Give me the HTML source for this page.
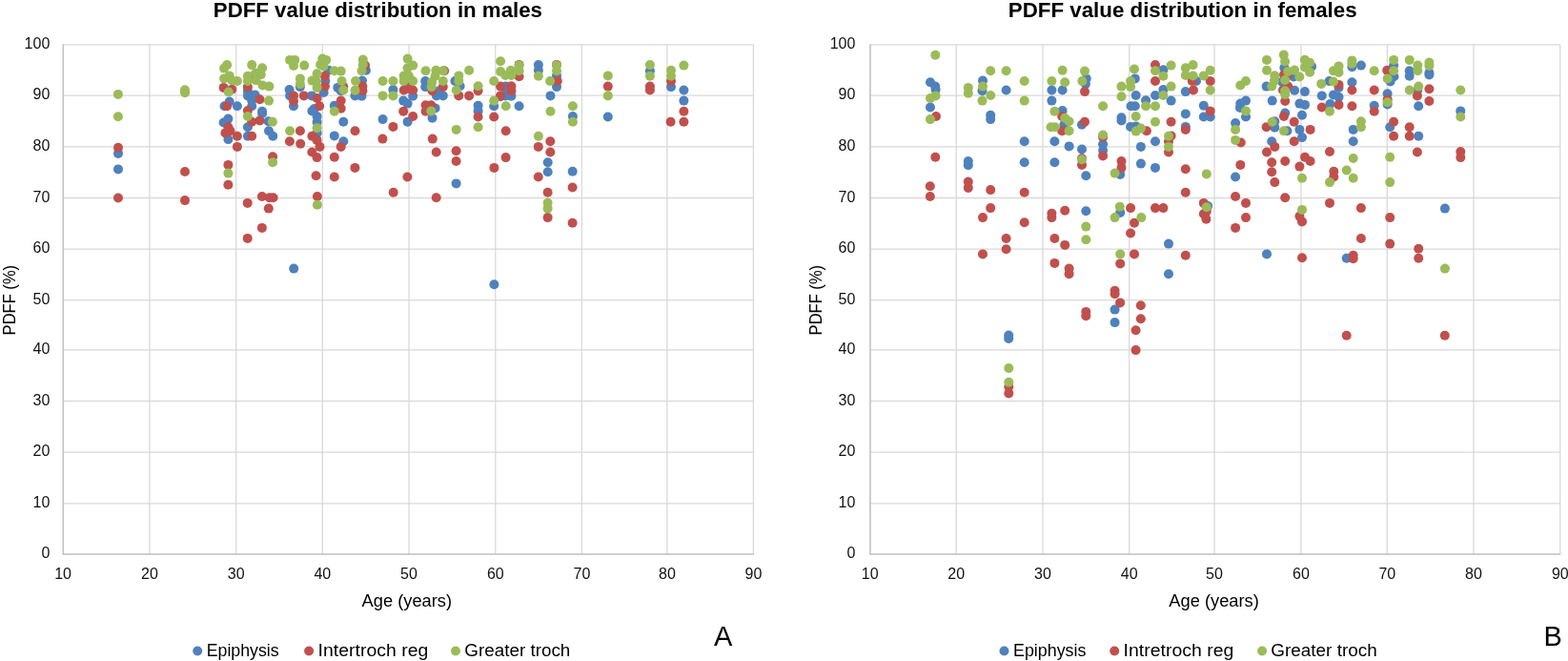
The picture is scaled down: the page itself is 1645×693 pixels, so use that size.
<!DOCTYPE html>
<html><head><meta charset="utf-8"><style>
html,body{margin:0;padding:0;background:#fff;}
body{width:1645px;height:693px;overflow:hidden;}
svg{display:block;}
text{font-family:"Liberation Sans",Arial,sans-serif;fill:#000;}
.g{stroke:#d9d9d9;stroke-width:1.3;}
.ax{stroke:#bfbfbf;stroke-width:1.6;}
.ay{stroke:#c4c4c4;stroke-width:1.4;}
.yl,.xl{font-size:16px;fill:#111;}
.at{font-size:17.5px;}
.lg{font-size:17.5px;}
.tt{font-size:22px;font-weight:bold;}
.lt{font-size:29px;}
</style></head><body>
<svg width="1645" height="693" viewBox="0 0 1645 693">
<line x1="66.1" y1="527.80" x2="790.4" y2="527.80" class="g"/>
<line x1="66.1" y1="474.10" x2="790.4" y2="474.10" class="g"/>
<line x1="66.1" y1="420.50" x2="790.4" y2="420.50" class="g"/>
<line x1="66.1" y1="366.90" x2="790.4" y2="366.90" class="g"/>
<line x1="66.1" y1="314.70" x2="790.4" y2="314.70" class="g"/>
<line x1="66.1" y1="261.10" x2="790.4" y2="261.10" class="g"/>
<line x1="66.1" y1="207.50" x2="790.4" y2="207.50" class="g"/>
<line x1="66.1" y1="153.90" x2="790.4" y2="153.90" class="g"/>
<line x1="66.1" y1="100.20" x2="790.4" y2="100.20" class="g"/>
<line x1="66.1" y1="46.80" x2="790.4" y2="46.80" class="g"/>
<line x1="66.10" y1="46.8" x2="66.10" y2="581.0" class="g"/>
<line x1="156.90" y1="46.8" x2="156.90" y2="581.0" class="g"/>
<line x1="247.70" y1="46.8" x2="247.70" y2="581.0" class="g"/>
<line x1="338.30" y1="46.8" x2="338.30" y2="581.0" class="g"/>
<line x1="429.00" y1="46.8" x2="429.00" y2="581.0" class="g"/>
<line x1="519.80" y1="46.8" x2="519.80" y2="581.0" class="g"/>
<line x1="610.40" y1="46.8" x2="610.40" y2="581.0" class="g"/>
<line x1="699.90" y1="46.8" x2="699.90" y2="581.0" class="g"/>
<line x1="790.40" y1="46.8" x2="790.40" y2="581.0" class="g"/>
<line x1="66.4" y1="46.2" x2="66.4" y2="581.0" class="ay"/>
<line x1="65.6" y1="581.0" x2="790.9" y2="581.0" class="ax"/>
<g fill="#4f81bd"><circle cx="275.1" cy="118.9" r="5.0"/><circle cx="329.9" cy="113.9" r="5.0"/><circle cx="308.2" cy="281.6" r="5.0"/><circle cx="124.0" cy="177.4" r="5.0"/><circle cx="124.0" cy="160.9" r="5.0"/><circle cx="564.9" cy="68.1" r="5.0"/><circle cx="332.6" cy="122.0" r="5.0"/><circle cx="600.9" cy="122.0" r="5.0"/><circle cx="275.1" cy="116.8" r="5.0"/><circle cx="327.4" cy="116.4" r="5.0"/><circle cx="344.8" cy="73.8" r="5.0"/><circle cx="564.9" cy="73.8" r="5.0"/><circle cx="453.5" cy="123.8" r="5.0"/><circle cx="681.9" cy="74.2" r="5.0"/><circle cx="239.4" cy="124.6" r="5.0"/><circle cx="574.7" cy="170.3" r="5.0"/><circle cx="401.6" cy="125.1" r="5.0"/><circle cx="456.6" cy="113.4" r="5.0"/><circle cx="281.6" cy="127.2" r="5.0"/><circle cx="427.6" cy="127.7" r="5.0"/><circle cx="332.6" cy="128.1" r="5.0"/><circle cx="234.6" cy="128.5" r="5.0"/><circle cx="264.2" cy="111.2" r="5.0"/><circle cx="308.0" cy="111.2" r="5.0"/><circle cx="235.5" cy="111.2" r="5.0"/><circle cx="248.9" cy="111.2" r="5.0"/><circle cx="544.6" cy="111.2" r="5.0"/><circle cx="350.8" cy="110.8" r="5.0"/><circle cx="584.0" cy="79.4" r="5.0"/><circle cx="600.7" cy="179.8" r="5.0"/><circle cx="574.7" cy="180.3" r="5.0"/><circle cx="360.3" cy="127.7" r="5.0"/><circle cx="427.6" cy="108.6" r="5.0"/><circle cx="518.2" cy="111.2" r="5.0"/><circle cx="259.9" cy="133.3" r="5.0"/><circle cx="240.7" cy="106.5" r="5.0"/><circle cx="264.2" cy="105.6" r="5.0"/><circle cx="423.2" cy="105.6" r="5.0"/><circle cx="717.4" cy="105.6" r="5.0"/><circle cx="341.3" cy="85.0" r="5.0"/><circle cx="446.2" cy="85.0" r="5.0"/><circle cx="477.4" cy="85.0" r="5.0"/><circle cx="383.9" cy="73.8" r="5.0"/><circle cx="282.0" cy="137.2" r="5.0"/><circle cx="518.4" cy="298.2" r="5.0"/><circle cx="525.1" cy="101.3" r="5.0"/><circle cx="433.2" cy="100.8" r="5.0"/><circle cx="536.4" cy="100.8" r="5.0"/><circle cx="332.6" cy="139.4" r="5.0"/><circle cx="259.9" cy="100.4" r="5.0"/><circle cx="304.1" cy="100.4" r="5.0"/><circle cx="327.0" cy="100.4" r="5.0"/><circle cx="457.9" cy="100.4" r="5.0"/><circle cx="464.8" cy="100.4" r="5.0"/><circle cx="530.3" cy="100.4" r="5.0"/><circle cx="577.5" cy="100.4" r="5.0"/><circle cx="380.0" cy="84.6" r="5.0"/><circle cx="482.6" cy="90.2" r="5.0"/><circle cx="267.7" cy="99.5" r="5.0"/><circle cx="379.5" cy="100.8" r="5.0"/><circle cx="530.7" cy="90.6" r="5.0"/><circle cx="314.9" cy="91.1" r="5.0"/><circle cx="446.2" cy="91.1" r="5.0"/><circle cx="584.0" cy="91.1" r="5.0"/><circle cx="704.0" cy="91.1" r="5.0"/><circle cx="501.6" cy="110.8" r="5.0"/><circle cx="501.6" cy="116.4" r="5.0"/><circle cx="360.3" cy="148.2" r="5.0"/><circle cx="354.3" cy="91.9" r="5.0"/><circle cx="637.8" cy="122.5" r="5.0"/><circle cx="350.8" cy="142.4" r="5.0"/><circle cx="478.6" cy="192.4" r="5.0"/><circle cx="372.5" cy="100.4" r="5.0"/><circle cx="259.9" cy="142.8" r="5.0"/><circle cx="286.3" cy="142.8" r="5.0"/><circle cx="339.6" cy="96.9" r="5.0"/><circle cx="239.4" cy="146.1" r="5.0"/><circle cx="303.6" cy="94.1" r="5.0"/><circle cx="412.4" cy="94.1" r="5.0"/><circle cx="717.4" cy="94.5" r="5.0"/><circle cx="357.7" cy="95.2" r="5.0"/><circle cx="259.9" cy="95.4" r="5.0"/><circle cx="460.0" cy="95.4" r="5.0"/><circle cx="530.7" cy="96.3" r="5.0"/></g>
<g fill="#c0504d"><circle cx="428.2" cy="92.9" r="5.0"/><circle cx="194.0" cy="180.0" r="5.0"/><circle cx="281.8" cy="218.6" r="5.0"/><circle cx="433.2" cy="122.0" r="5.0"/><circle cx="544.6" cy="67.9" r="5.0"/><circle cx="584.0" cy="67.9" r="5.0"/><circle cx="239.4" cy="172.9" r="5.0"/><circle cx="423.2" cy="116.8" r="5.0"/><circle cx="446.6" cy="116.8" r="5.0"/><circle cx="717.4" cy="116.8" r="5.0"/><circle cx="466.1" cy="74.2" r="5.0"/><circle cx="530.6" cy="165.1" r="5.0"/><circle cx="124.0" cy="154.7" r="5.0"/><circle cx="286.1" cy="164.2" r="5.0"/><circle cx="372.4" cy="175.9" r="5.0"/><circle cx="518.4" cy="175.9" r="5.0"/><circle cx="272.5" cy="126.4" r="5.0"/><circle cx="259.7" cy="212.9" r="5.0"/><circle cx="264.2" cy="127.7" r="5.0"/><circle cx="717.4" cy="127.7" r="5.0"/><circle cx="703.6" cy="127.7" r="5.0"/><circle cx="357.7" cy="113.8" r="5.0"/><circle cx="574.6" cy="228.1" r="5.0"/><circle cx="335.2" cy="111.2" r="5.0"/><circle cx="238.1" cy="111.2" r="5.0"/><circle cx="350.8" cy="164.7" r="5.0"/><circle cx="446.6" cy="110.3" r="5.0"/><circle cx="452.3" cy="110.3" r="5.0"/><circle cx="266.0" cy="79.8" r="5.0"/><circle cx="340.9" cy="79.8" r="5.0"/><circle cx="259.9" cy="116.0" r="5.0"/><circle cx="259.7" cy="249.9" r="5.0"/><circle cx="544.6" cy="80.3" r="5.0"/><circle cx="577.3" cy="159.5" r="5.0"/><circle cx="478.6" cy="169.0" r="5.0"/><circle cx="518.2" cy="122.5" r="5.0"/><circle cx="478.6" cy="158.2" r="5.0"/><circle cx="282.7" cy="207.3" r="5.0"/><circle cx="286.6" cy="207.3" r="5.0"/><circle cx="412.4" cy="132.9" r="5.0"/><circle cx="239.4" cy="133.3" r="5.0"/><circle cx="600.6" cy="233.7" r="5.0"/><circle cx="308.0" cy="106.0" r="5.0"/><circle cx="274.9" cy="206.0" r="5.0"/><circle cx="357.7" cy="105.6" r="5.0"/><circle cx="584.8" cy="85.0" r="5.0"/><circle cx="704.0" cy="85.0" r="5.0"/><circle cx="350.8" cy="185.5" r="5.0"/><circle cx="427.4" cy="185.5" r="5.0"/><circle cx="564.8" cy="185.5" r="5.0"/><circle cx="272.5" cy="104.3" r="5.0"/><circle cx="248.9" cy="153.9" r="5.0"/><circle cx="357.7" cy="153.9" r="5.0"/><circle cx="564.8" cy="153.9" r="5.0"/><circle cx="383.0" cy="68.6" r="5.0"/><circle cx="332.6" cy="103.0" r="5.0"/><circle cx="314.9" cy="137.2" r="5.0"/><circle cx="241.6" cy="137.2" r="5.0"/><circle cx="530.7" cy="137.2" r="5.0"/><circle cx="327.3" cy="159.5" r="5.0"/><circle cx="124.0" cy="207.5" r="5.0"/><circle cx="457.7" cy="159.5" r="5.0"/><circle cx="457.7" cy="207.3" r="5.0"/><circle cx="412.7" cy="201.7" r="5.0"/><circle cx="574.6" cy="201.7" r="5.0"/><circle cx="274.9" cy="238.9" r="5.0"/><circle cx="315.2" cy="150.8" r="5.0"/><circle cx="236.4" cy="139.4" r="5.0"/><circle cx="308.0" cy="100.4" r="5.0"/><circle cx="318.8" cy="100.4" r="5.0"/><circle cx="481.3" cy="100.4" r="5.0"/><circle cx="492.1" cy="100.4" r="5.0"/><circle cx="525.1" cy="100.4" r="5.0"/><circle cx="194.0" cy="210.1" r="5.0"/><circle cx="536.4" cy="90.2" r="5.0"/><circle cx="340.9" cy="90.6" r="5.0"/><circle cx="380.4" cy="90.6" r="5.0"/><circle cx="525.1" cy="90.6" r="5.0"/><circle cx="681.9" cy="90.6" r="5.0"/><circle cx="259.9" cy="91.1" r="5.0"/><circle cx="360.3" cy="91.1" r="5.0"/><circle cx="428.4" cy="91.1" r="5.0"/><circle cx="464.8" cy="91.1" r="5.0"/><circle cx="501.6" cy="122.5" r="5.0"/><circle cx="331.6" cy="184.2" r="5.0"/><circle cx="303.9" cy="148.2" r="5.0"/><circle cx="577.3" cy="148.2" r="5.0"/><circle cx="234.6" cy="91.9" r="5.0"/><circle cx="637.8" cy="90.6" r="5.0"/><circle cx="372.5" cy="137.2" r="5.0"/><circle cx="332.5" cy="165.1" r="5.0"/><circle cx="264.2" cy="142.8" r="5.0"/><circle cx="327.4" cy="142.8" r="5.0"/><circle cx="248.9" cy="142.8" r="5.0"/><circle cx="332.9" cy="206.0" r="5.0"/><circle cx="332.5" cy="146.9" r="5.0"/><circle cx="600.6" cy="196.5" r="5.0"/><circle cx="243.3" cy="93.7" r="5.0"/><circle cx="239.4" cy="193.7" r="5.0"/><circle cx="401.4" cy="145.6" r="5.0"/><circle cx="453.8" cy="145.6" r="5.0"/><circle cx="423.7" cy="94.5" r="5.0"/><circle cx="433.2" cy="94.5" r="5.0"/><circle cx="681.9" cy="94.5" r="5.0"/><circle cx="380.4" cy="95.2" r="5.0"/><circle cx="453.5" cy="95.2" r="5.0"/><circle cx="501.6" cy="95.2" r="5.0"/><circle cx="536.4" cy="95.2" r="5.0"/><circle cx="335.5" cy="153.9" r="5.0"/></g>
<g fill="#9bbb59"><circle cx="286.1" cy="170.3" r="5.0"/><circle cx="339.6" cy="69.4" r="5.0"/><circle cx="308.0" cy="69.0" r="5.0"/><circle cx="275.1" cy="71.2" r="5.0"/><circle cx="427.6" cy="71.2" r="5.0"/><circle cx="319.2" cy="68.6" r="5.0"/><circle cx="433.2" cy="68.6" r="5.0"/><circle cx="544.6" cy="68.6" r="5.0"/><circle cx="584.0" cy="68.6" r="5.0"/><circle cx="717.4" cy="68.6" r="5.0"/><circle cx="574.6" cy="218.6" r="5.0"/><circle cx="235.1" cy="71.6" r="5.0"/><circle cx="681.9" cy="68.1" r="5.0"/><circle cx="238.1" cy="68.1" r="5.0"/><circle cx="336.1" cy="67.7" r="5.0"/><circle cx="350.8" cy="116.8" r="5.0"/><circle cx="577.5" cy="116.8" r="5.0"/><circle cx="452.3" cy="116.4" r="5.0"/><circle cx="457.4" cy="73.8" r="5.0"/><circle cx="535.9" cy="73.8" r="5.0"/><circle cx="704.0" cy="73.8" r="5.0"/><circle cx="350.8" cy="74.2" r="5.0"/><circle cx="446.6" cy="74.2" r="5.0"/><circle cx="464.8" cy="74.2" r="5.0"/><circle cx="544.6" cy="74.2" r="5.0"/><circle cx="584.0" cy="74.2" r="5.0"/><circle cx="525.1" cy="75.1" r="5.0"/><circle cx="264.2" cy="68.1" r="5.0"/><circle cx="525.1" cy="64.2" r="5.0"/><circle cx="268.6" cy="76.4" r="5.0"/><circle cx="304.1" cy="62.9" r="5.0"/><circle cx="309.3" cy="62.9" r="5.0"/><circle cx="342.2" cy="62.9" r="5.0"/><circle cx="332.6" cy="77.2" r="5.0"/><circle cx="574.6" cy="212.7" r="5.0"/><circle cx="285.9" cy="127.7" r="5.0"/><circle cx="600.9" cy="127.7" r="5.0"/><circle cx="357.7" cy="74.6" r="5.0"/><circle cx="273.8" cy="78.1" r="5.0"/><circle cx="338.3" cy="61.6" r="5.0"/><circle cx="427.6" cy="61.6" r="5.0"/><circle cx="530.7" cy="111.2" r="5.0"/><circle cx="600.9" cy="111.2" r="5.0"/><circle cx="530.3" cy="79.0" r="5.0"/><circle cx="536.4" cy="79.0" r="5.0"/><circle cx="423.7" cy="79.4" r="5.0"/><circle cx="481.3" cy="79.4" r="5.0"/><circle cx="240.7" cy="79.4" r="5.0"/><circle cx="428.9" cy="79.8" r="5.0"/><circle cx="456.6" cy="79.8" r="5.0"/><circle cx="564.9" cy="79.8" r="5.0"/><circle cx="681.9" cy="79.8" r="5.0"/><circle cx="704.0" cy="79.8" r="5.0"/><circle cx="259.9" cy="79.8" r="5.0"/><circle cx="259.9" cy="122.0" r="5.0"/><circle cx="239.4" cy="181.6" r="5.0"/><circle cx="492.1" cy="73.8" r="5.0"/><circle cx="314.9" cy="82.4" r="5.0"/><circle cx="235.1" cy="82.4" r="5.0"/><circle cx="194.0" cy="97.3" r="5.0"/><circle cx="268.6" cy="84.2" r="5.0"/><circle cx="332.6" cy="134.2" r="5.0"/><circle cx="243.3" cy="84.2" r="5.0"/><circle cx="282.0" cy="105.6" r="5.0"/><circle cx="518.2" cy="105.6" r="5.0"/><circle cx="327.4" cy="84.6" r="5.0"/><circle cx="259.9" cy="85.0" r="5.0"/><circle cx="331.8" cy="85.0" r="5.0"/><circle cx="358.6" cy="85.0" r="5.0"/><circle cx="401.6" cy="85.0" r="5.0"/><circle cx="412.4" cy="85.0" r="5.0"/><circle cx="423.7" cy="85.0" r="5.0"/><circle cx="433.2" cy="85.0" r="5.0"/><circle cx="464.8" cy="85.0" r="5.0"/><circle cx="481.3" cy="85.0" r="5.0"/><circle cx="518.2" cy="85.0" r="5.0"/><circle cx="577.1" cy="85.0" r="5.0"/><circle cx="248.9" cy="85.0" r="5.0"/><circle cx="194.0" cy="94.3" r="5.0"/><circle cx="453.1" cy="85.9" r="5.0"/><circle cx="478.7" cy="135.9" r="5.0"/><circle cx="123.9" cy="98.9" r="5.0"/><circle cx="123.9" cy="122.3" r="5.0"/><circle cx="304.1" cy="137.2" r="5.0"/><circle cx="314.9" cy="88.1" r="5.0"/><circle cx="380.8" cy="62.5" r="5.0"/><circle cx="380.8" cy="67.7" r="5.0"/><circle cx="275.5" cy="89.4" r="5.0"/><circle cx="401.6" cy="100.4" r="5.0"/><circle cx="412.4" cy="100.4" r="5.0"/><circle cx="379.5" cy="74.2" r="5.0"/><circle cx="282.4" cy="90.6" r="5.0"/><circle cx="452.7" cy="91.1" r="5.0"/><circle cx="501.6" cy="90.2" r="5.0"/><circle cx="501.6" cy="133.3" r="5.0"/><circle cx="332.6" cy="91.9" r="5.0"/><circle cx="637.8" cy="79.4" r="5.0"/><circle cx="637.8" cy="100.4" r="5.0"/><circle cx="564.9" cy="142.8" r="5.0"/><circle cx="332.9" cy="214.7" r="5.0"/><circle cx="239.8" cy="96.5" r="5.0"/><circle cx="360.3" cy="94.5" r="5.0"/><circle cx="478.7" cy="94.5" r="5.0"/><circle cx="372.5" cy="94.8" r="5.0"/><circle cx="373.0" cy="85.0" r="5.0"/></g>
<text x="52.3" y="585.1" class="yl" text-anchor="end">0</text>
<text x="52.3" y="531.8" class="yl" text-anchor="end">10</text>
<text x="52.3" y="478.1" class="yl" text-anchor="end">20</text>
<text x="52.3" y="424.5" class="yl" text-anchor="end">30</text>
<text x="52.3" y="370.9" class="yl" text-anchor="end">40</text>
<text x="52.3" y="318.7" class="yl" text-anchor="end">50</text>
<text x="52.3" y="265.1" class="yl" text-anchor="end">60</text>
<text x="52.3" y="211.5" class="yl" text-anchor="end">70</text>
<text x="52.3" y="157.9" class="yl" text-anchor="end">80</text>
<text x="52.3" y="104.2" class="yl" text-anchor="end">90</text>
<text x="52.3" y="50.8" class="yl" text-anchor="end">100</text>
<text x="66.1" y="606.8" class="xl" text-anchor="middle">10</text>
<text x="156.9" y="606.8" class="xl" text-anchor="middle">20</text>
<text x="247.7" y="606.8" class="xl" text-anchor="middle">30</text>
<text x="338.3" y="606.8" class="xl" text-anchor="middle">40</text>
<text x="429.0" y="606.8" class="xl" text-anchor="middle">50</text>
<text x="519.8" y="606.8" class="xl" text-anchor="middle">60</text>
<text x="610.4" y="606.8" class="xl" text-anchor="middle">70</text>
<text x="699.9" y="606.8" class="xl" text-anchor="middle">80</text>
<text x="790.4" y="606.8" class="xl" text-anchor="middle">90</text>
<text x="379.6" y="635.5" class="at" textLength="94.5" lengthAdjust="spacingAndGlyphs">Age (years)</text>
<text transform="translate(15.5,351.4) rotate(-90)" class="at" textLength="73.5" lengthAdjust="spacingAndGlyphs">PDFF (%)</text>
<text x="223.8" y="18" class="tt" textLength="345.2" lengthAdjust="spacingAndGlyphs">PDFF value distribution in males</text>
<circle cx="207.2" cy="682.5" r="5" fill="#4f81bd"/>
<text x="216.7" y="687.6" class="lg" textLength="75.9" lengthAdjust="spacingAndGlyphs">Epiphysis</text>
<circle cx="324.1" cy="682.5" r="5" fill="#c0504d"/>
<text x="333.6" y="687.6" class="lg" textLength="115.7" lengthAdjust="spacingAndGlyphs">Intertroch reg</text>
<circle cx="478.0" cy="682.5" r="5" fill="#9bbb59"/>
<text x="487.3" y="687.6" class="lg" textLength="111.0" lengthAdjust="spacingAndGlyphs">Greater troch</text>
<text x="749.1" y="676.5" class="lt">A</text>
<line x1="912.7" y1="527.80" x2="1636.8" y2="527.80" class="g"/>
<line x1="912.7" y1="474.10" x2="1636.8" y2="474.10" class="g"/>
<line x1="912.7" y1="420.50" x2="1636.8" y2="420.50" class="g"/>
<line x1="912.7" y1="366.90" x2="1636.8" y2="366.90" class="g"/>
<line x1="912.7" y1="314.70" x2="1636.8" y2="314.70" class="g"/>
<line x1="912.7" y1="261.10" x2="1636.8" y2="261.10" class="g"/>
<line x1="912.7" y1="207.50" x2="1636.8" y2="207.50" class="g"/>
<line x1="912.7" y1="153.90" x2="1636.8" y2="153.90" class="g"/>
<line x1="912.7" y1="100.20" x2="1636.8" y2="100.20" class="g"/>
<line x1="912.7" y1="46.80" x2="1636.8" y2="46.80" class="g"/>
<line x1="912.70" y1="46.8" x2="912.70" y2="581.0" class="g"/>
<line x1="1003.20" y1="46.8" x2="1003.20" y2="581.0" class="g"/>
<line x1="1094.00" y1="46.8" x2="1094.00" y2="581.0" class="g"/>
<line x1="1184.70" y1="46.8" x2="1184.70" y2="581.0" class="g"/>
<line x1="1274.00" y1="46.8" x2="1274.00" y2="581.0" class="g"/>
<line x1="1364.90" y1="46.8" x2="1364.90" y2="581.0" class="g"/>
<line x1="1455.30" y1="46.8" x2="1455.30" y2="581.0" class="g"/>
<line x1="1546.00" y1="46.8" x2="1546.00" y2="581.0" class="g"/>
<line x1="1636.80" y1="46.8" x2="1636.80" y2="581.0" class="g"/>
<line x1="913.0" y1="46.2" x2="913.0" y2="581.0" class="ay"/>
<line x1="912.2" y1="581.0" x2="1637.3" y2="581.0" class="ax"/>
<g fill="#4f81bd"><circle cx="1058.2" cy="351.5" r="5.0"/><circle cx="1058.2" cy="354.9" r="5.0"/><circle cx="1169.6" cy="338.1" r="5.0"/><circle cx="1169.6" cy="324.6" r="5.0"/><circle cx="1418.4" cy="70.3" r="5.0"/><circle cx="1243.8" cy="119.4" r="5.0"/><circle cx="1039.2" cy="120.7" r="5.0"/><circle cx="1412.7" cy="270.7" r="5.0"/><circle cx="1015.8" cy="169.0" r="5.0"/><circle cx="1139.3" cy="221.2" r="5.0"/><circle cx="1427.9" cy="68.6" r="5.0"/><circle cx="1515.9" cy="218.6" r="5.0"/><circle cx="1262.8" cy="122.5" r="5.0"/><circle cx="1269.7" cy="122.5" r="5.0"/><circle cx="1307.0" cy="122.5" r="5.0"/><circle cx="1175.2" cy="222.9" r="5.0"/><circle cx="1176.5" cy="123.3" r="5.0"/><circle cx="1015.8" cy="173.3" r="5.0"/><circle cx="1532.3" cy="116.4" r="5.0"/><circle cx="1106.4" cy="170.3" r="5.0"/><circle cx="1347.3" cy="71.0" r="5.0"/><circle cx="1114.6" cy="116.0" r="5.0"/><circle cx="1366.0" cy="120.7" r="5.0"/><circle cx="1267.1" cy="216.0" r="5.0"/><circle cx="1039.2" cy="125.1" r="5.0"/><circle cx="1376.1" cy="69.7" r="5.0"/><circle cx="1357.2" cy="80.5" r="5.0"/><circle cx="1499.4" cy="76.4" r="5.0"/><circle cx="1176.5" cy="126.4" r="5.0"/><circle cx="1196.9" cy="171.6" r="5.0"/><circle cx="1300.9" cy="112.9" r="5.0"/><circle cx="976.0" cy="112.5" r="5.0"/><circle cx="1499.4" cy="78.5" r="5.0"/><circle cx="1186.5" cy="111.2" r="5.0"/><circle cx="1190.8" cy="111.2" r="5.0"/><circle cx="1296.1" cy="129.0" r="5.0"/><circle cx="1329.0" cy="266.4" r="5.0"/><circle cx="1262.8" cy="110.8" r="5.0"/><circle cx="1441.7" cy="110.8" r="5.0"/><circle cx="1369.0" cy="109.9" r="5.0"/><circle cx="1455.6" cy="109.5" r="5.0"/><circle cx="1345.1" cy="85.7" r="5.0"/><circle cx="1116.4" cy="130.7" r="5.0"/><circle cx="1135.0" cy="130.7" r="5.0"/><circle cx="1395.4" cy="109.0" r="5.0"/><circle cx="1301.3" cy="108.6" r="5.0"/><circle cx="1363.4" cy="108.6" r="5.0"/><circle cx="1488.2" cy="111.2" r="5.0"/><circle cx="1462.1" cy="68.6" r="5.0"/><circle cx="1157.1" cy="157.7" r="5.0"/><circle cx="1139.7" cy="82.4" r="5.0"/><circle cx="1190.8" cy="82.4" r="5.0"/><circle cx="1191.7" cy="132.4" r="5.0"/><circle cx="1462.5" cy="80.3" r="5.0"/><circle cx="1186.1" cy="132.9" r="5.0"/><circle cx="1243.8" cy="132.9" r="5.0"/><circle cx="1175.2" cy="182.9" r="5.0"/><circle cx="1458.2" cy="133.3" r="5.0"/><circle cx="1135.0" cy="156.5" r="5.0"/><circle cx="1139.3" cy="184.2" r="5.0"/><circle cx="1103.4" cy="105.6" r="5.0"/><circle cx="1228.6" cy="105.6" r="5.0"/><circle cx="1307.0" cy="105.6" r="5.0"/><circle cx="1226.0" cy="255.6" r="5.0"/><circle cx="1031.0" cy="84.6" r="5.0"/><circle cx="1334.7" cy="105.6" r="5.0"/><circle cx="1074.7" cy="170.3" r="5.0"/><circle cx="1202.1" cy="105.2" r="5.0"/><circle cx="1255.0" cy="85.0" r="5.0"/><circle cx="1394.5" cy="85.0" r="5.0"/><circle cx="1458.6" cy="85.5" r="5.0"/><circle cx="1296.1" cy="185.5" r="5.0"/><circle cx="1363.4" cy="135.9" r="5.0"/><circle cx="1419.7" cy="135.9" r="5.0"/><circle cx="1196.9" cy="153.9" r="5.0"/><circle cx="976.0" cy="86.3" r="5.0"/><circle cx="1418.4" cy="86.3" r="5.0"/><circle cx="1121.6" cy="153.4" r="5.0"/><circle cx="1226.0" cy="287.2" r="5.0"/><circle cx="1337.3" cy="127.2" r="5.0"/><circle cx="1337.3" cy="133.7" r="5.0"/><circle cx="1138.9" cy="88.1" r="5.0"/><circle cx="1404.5" cy="101.7" r="5.0"/><circle cx="1157.1" cy="151.3" r="5.0"/><circle cx="1220.4" cy="73.3" r="5.0"/><circle cx="1350.4" cy="137.2" r="5.0"/><circle cx="1386.8" cy="100.4" r="5.0"/><circle cx="1358.1" cy="94.8" r="5.0"/><circle cx="1191.7" cy="100.0" r="5.0"/><circle cx="1398.9" cy="99.5" r="5.0"/><circle cx="981.2" cy="90.6" r="5.0"/><circle cx="1328.6" cy="90.6" r="5.0"/><circle cx="1368.9" cy="96.1" r="5.0"/><circle cx="1478.7" cy="74.2" r="5.0"/><circle cx="1478.7" cy="79.8" r="5.0"/><circle cx="1348.2" cy="118.6" r="5.0"/><circle cx="1455.6" cy="98.2" r="5.0"/><circle cx="1074.7" cy="148.2" r="5.0"/><circle cx="1106.4" cy="148.2" r="5.0"/><circle cx="1334.2" cy="148.2" r="5.0"/><circle cx="1419.7" cy="148.2" r="5.0"/><circle cx="1404.5" cy="91.9" r="5.0"/><circle cx="1212.0" cy="100.0" r="5.0"/><circle cx="1212.0" cy="148.2" r="5.0"/><circle cx="1212.0" cy="175.9" r="5.0"/><circle cx="1488.2" cy="142.8" r="5.0"/><circle cx="1243.8" cy="96.1" r="5.0"/><circle cx="981.6" cy="94.1" r="5.0"/><circle cx="1220.4" cy="94.1" r="5.0"/><circle cx="1366.0" cy="144.1" r="5.0"/><circle cx="1055.6" cy="94.5" r="5.0"/><circle cx="1103.4" cy="94.5" r="5.0"/><circle cx="1114.6" cy="94.5" r="5.0"/><circle cx="1487.3" cy="94.5" r="5.0"/><circle cx="1030.5" cy="95.2" r="5.0"/></g>
<g fill="#c0504d"><circle cx="1412.7" cy="351.8" r="5.0"/><circle cx="1139.3" cy="331.2" r="5.0"/><circle cx="1191.6" cy="346.3" r="5.0"/><circle cx="1191.6" cy="367.1" r="5.0"/><circle cx="1139.3" cy="326.9" r="5.0"/><circle cx="1196.8" cy="334.2" r="5.0"/><circle cx="1196.8" cy="320.3" r="5.0"/><circle cx="1117.2" cy="220.7" r="5.0"/><circle cx="1176.5" cy="169.0" r="5.0"/><circle cx="1374.6" cy="169.0" r="5.0"/><circle cx="1419.7" cy="271.2" r="5.0"/><circle cx="1265.8" cy="221.6" r="5.0"/><circle cx="1039.2" cy="218.1" r="5.0"/><circle cx="1186.1" cy="218.1" r="5.0"/><circle cx="1427.9" cy="218.1" r="5.0"/><circle cx="982.0" cy="122.0" r="5.0"/><circle cx="1114.2" cy="122.0" r="5.0"/><circle cx="1243.8" cy="267.7" r="5.0"/><circle cx="1419.7" cy="267.7" r="5.0"/><circle cx="1175.1" cy="317.4" r="5.0"/><circle cx="1135.0" cy="172.9" r="5.0"/><circle cx="1301.3" cy="172.9" r="5.0"/><circle cx="1441.7" cy="116.8" r="5.0"/><circle cx="1347.0" cy="78.3" r="5.0"/><circle cx="1269.7" cy="116.4" r="5.0"/><circle cx="1031.0" cy="266.4" r="5.0"/><circle cx="1190.0" cy="266.4" r="5.0"/><circle cx="1135.0" cy="166.0" r="5.0"/><circle cx="1366.0" cy="270.3" r="5.0"/><circle cx="1350.3" cy="79.2" r="5.0"/><circle cx="1262.8" cy="224.2" r="5.0"/><circle cx="1532.3" cy="165.1" r="5.0"/><circle cx="1455.2" cy="73.8" r="5.0"/><circle cx="981.3" cy="164.8" r="5.0"/><circle cx="1369.0" cy="164.7" r="5.0"/><circle cx="1058.3" cy="405.5" r="5.0"/><circle cx="1176.5" cy="175.9" r="5.0"/><circle cx="1106.4" cy="275.9" r="5.0"/><circle cx="1175.2" cy="276.4" r="5.0"/><circle cx="1157.1" cy="163.4" r="5.0"/><circle cx="1363.4" cy="174.6" r="5.0"/><circle cx="1103.4" cy="223.8" r="5.0"/><circle cx="1363.4" cy="226.8" r="5.0"/><circle cx="1262.8" cy="212.9" r="5.0"/><circle cx="1307.0" cy="212.9" r="5.0"/><circle cx="1395.0" cy="212.9" r="5.0"/><circle cx="1243.8" cy="177.2" r="5.0"/><circle cx="1386.8" cy="112.5" r="5.0"/><circle cx="1138.0" cy="127.7" r="5.0"/><circle cx="1031.0" cy="228.1" r="5.0"/><circle cx="1103.4" cy="228.1" r="5.0"/><circle cx="1307.0" cy="228.1" r="5.0"/><circle cx="1458.2" cy="228.1" r="5.0"/><circle cx="1418.4" cy="111.2" r="5.0"/><circle cx="1055.6" cy="261.2" r="5.0"/><circle cx="1399.3" cy="179.8" r="5.0"/><circle cx="1265.4" cy="229.8" r="5.0"/><circle cx="1404.5" cy="109.9" r="5.0"/><circle cx="1329.0" cy="159.5" r="5.0"/><circle cx="1395.0" cy="159.0" r="5.0"/><circle cx="1532.3" cy="159.0" r="5.0"/><circle cx="1228.6" cy="127.7" r="5.0"/><circle cx="1121.6" cy="281.6" r="5.0"/><circle cx="1515.8" cy="351.7" r="5.0"/><circle cx="1488.2" cy="260.8" r="5.0"/><circle cx="1488.2" cy="270.7" r="5.0"/><circle cx="1169.6" cy="308.2" r="5.0"/><circle cx="1462.1" cy="127.7" r="5.0"/><circle cx="1357.7" cy="127.7" r="5.0"/><circle cx="1366.0" cy="232.4" r="5.0"/><circle cx="1058.3" cy="412.4" r="5.0"/><circle cx="1486.9" cy="159.5" r="5.0"/><circle cx="1117.2" cy="256.9" r="5.0"/><circle cx="1328.6" cy="133.3" r="5.0"/><circle cx="1190.0" cy="233.7" r="5.0"/><circle cx="1499.4" cy="106.0" r="5.0"/><circle cx="1226.0" cy="159.5" r="5.0"/><circle cx="975.8" cy="206.0" r="5.0"/><circle cx="1296.1" cy="206.0" r="5.0"/><circle cx="1334.2" cy="170.3" r="5.0"/><circle cx="1334.2" cy="180.3" r="5.0"/><circle cx="1458.2" cy="255.6" r="5.0"/><circle cx="1074.7" cy="233.3" r="5.0"/><circle cx="1250.7" cy="85.0" r="5.0"/><circle cx="1269.7" cy="85.0" r="5.0"/><circle cx="1169.6" cy="304.7" r="5.0"/><circle cx="1351.2" cy="90.5" r="5.0"/><circle cx="1399.3" cy="185.5" r="5.0"/><circle cx="1455.6" cy="104.3" r="5.0"/><circle cx="1243.8" cy="135.9" r="5.0"/><circle cx="1374.6" cy="135.9" r="5.0"/><circle cx="1114.2" cy="137.2" r="5.0"/><circle cx="1202.9" cy="137.2" r="5.0"/><circle cx="1121.6" cy="287.2" r="5.0"/><circle cx="1337.3" cy="153.9" r="5.0"/><circle cx="1074.7" cy="201.7" r="5.0"/><circle cx="1243.8" cy="201.7" r="5.0"/><circle cx="1404.5" cy="88.9" r="5.0"/><circle cx="1296.1" cy="238.9" r="5.0"/><circle cx="1346.0" cy="94.4" r="5.0"/><circle cx="1486.9" cy="100.4" r="5.0"/><circle cx="1220.4" cy="218.1" r="5.0"/><circle cx="1055.6" cy="250.0" r="5.0"/><circle cx="1106.4" cy="250.0" r="5.0"/><circle cx="1427.9" cy="250.0" r="5.0"/><circle cx="1301.8" cy="149.5" r="5.0"/><circle cx="1015.8" cy="190.6" r="5.0"/><circle cx="1039.2" cy="199.1" r="5.0"/><circle cx="1337.3" cy="191.1" r="5.0"/><circle cx="1478.7" cy="133.3" r="5.0"/><circle cx="1348.2" cy="106.0" r="5.0"/><circle cx="1226.0" cy="148.2" r="5.0"/><circle cx="1357.7" cy="148.2" r="5.0"/><circle cx="1348.2" cy="169.0" r="5.0"/><circle cx="1348.2" cy="207.3" r="5.0"/><circle cx="1212.0" cy="68.1" r="5.0"/><circle cx="1212.0" cy="85.0" r="5.0"/><circle cx="1212.0" cy="218.1" r="5.0"/><circle cx="1228.6" cy="142.4" r="5.0"/><circle cx="1462.1" cy="142.8" r="5.0"/><circle cx="1478.7" cy="142.8" r="5.0"/><circle cx="1346.9" cy="122.0" r="5.0"/><circle cx="1015.8" cy="196.9" r="5.0"/><circle cx="1499.4" cy="93.2" r="5.0"/><circle cx="1157.1" cy="143.7" r="5.0"/><circle cx="1138.0" cy="96.1" r="5.0"/><circle cx="1252.0" cy="94.5" r="5.0"/><circle cx="1418.4" cy="94.5" r="5.0"/><circle cx="1441.7" cy="94.5" r="5.0"/><circle cx="1186.1" cy="244.5" r="5.0"/><circle cx="975.8" cy="195.2" r="5.0"/></g>
<g fill="#9bbb59"><circle cx="1351.2" cy="74.9" r="5.0"/><circle cx="1404.5" cy="69.4" r="5.0"/><circle cx="1374.1" cy="75.7" r="5.0"/><circle cx="1058.3" cy="400.7" r="5.0"/><circle cx="1499.4" cy="69.0" r="5.0"/><circle cx="1243.8" cy="71.2" r="5.0"/><circle cx="1358.1" cy="73.6" r="5.0"/><circle cx="1251.6" cy="68.1" r="5.0"/><circle cx="1191.7" cy="122.0" r="5.0"/><circle cx="1190.0" cy="72.5" r="5.0"/><circle cx="1532.3" cy="122.5" r="5.0"/><circle cx="1135.0" cy="167.3" r="5.0"/><circle cx="1265.8" cy="217.3" r="5.0"/><circle cx="1418.4" cy="66.8" r="5.0"/><circle cx="1395.0" cy="116.8" r="5.0"/><circle cx="1174.8" cy="216.8" r="5.0"/><circle cx="1106.4" cy="116.8" r="5.0"/><circle cx="1307.0" cy="116.4" r="5.0"/><circle cx="1175.2" cy="266.4" r="5.0"/><circle cx="1114.6" cy="73.8" r="5.0"/><circle cx="1269.7" cy="73.8" r="5.0"/><circle cx="1117.2" cy="123.8" r="5.0"/><circle cx="1419.7" cy="166.0" r="5.0"/><circle cx="1366.0" cy="219.9" r="5.0"/><circle cx="1039.2" cy="74.2" r="5.0"/><circle cx="1055.6" cy="74.2" r="5.0"/><circle cx="1398.9" cy="74.2" r="5.0"/><circle cx="1441.7" cy="74.2" r="5.0"/><circle cx="1368.9" cy="70.5" r="5.0"/><circle cx="1499.4" cy="65.5" r="5.0"/><circle cx="1138.0" cy="74.6" r="5.0"/><circle cx="976.0" cy="125.1" r="5.0"/><circle cx="1363.3" cy="80.5" r="5.0"/><circle cx="1404.5" cy="75.9" r="5.0"/><circle cx="1418.4" cy="63.4" r="5.0"/><circle cx="1121.6" cy="127.2" r="5.0"/><circle cx="1427.9" cy="127.2" r="5.0"/><circle cx="1169.6" cy="228.1" r="5.0"/><circle cx="1197.3" cy="228.1" r="5.0"/><circle cx="1458.2" cy="164.7" r="5.0"/><circle cx="1412.7" cy="178.5" r="5.0"/><circle cx="1157.1" cy="111.2" r="5.0"/><circle cx="1243.8" cy="79.0" r="5.0"/><circle cx="1348.1" cy="84.0" r="5.0"/><circle cx="1329.0" cy="62.9" r="5.0"/><circle cx="1329.0" cy="73.8" r="5.0"/><circle cx="1374.1" cy="65.8" r="5.0"/><circle cx="1251.6" cy="79.4" r="5.0"/><circle cx="1262.8" cy="79.4" r="5.0"/><circle cx="1348.1" cy="64.5" r="5.0"/><circle cx="1228.6" cy="68.6" r="5.0"/><circle cx="1169.6" cy="181.6" r="5.0"/><circle cx="1515.9" cy="281.6" r="5.0"/><circle cx="1462.1" cy="62.9" r="5.0"/><circle cx="1462.1" cy="74.2" r="5.0"/><circle cx="1202.1" cy="111.2" r="5.0"/><circle cx="981.3" cy="57.7" r="5.0"/><circle cx="1368.9" cy="62.7" r="5.0"/><circle cx="1455.6" cy="82.4" r="5.0"/><circle cx="1265.8" cy="182.4" r="5.0"/><circle cx="1337.3" cy="79.2" r="5.0"/><circle cx="1487.3" cy="68.6" r="5.0"/><circle cx="1487.3" cy="74.2" r="5.0"/><circle cx="1455.6" cy="107.3" r="5.0"/><circle cx="1386.2" cy="87.9" r="5.0"/><circle cx="1336.9" cy="84.8" r="5.0"/><circle cx="1102.5" cy="133.3" r="5.0"/><circle cx="1106.8" cy="133.3" r="5.0"/><circle cx="1427.9" cy="133.3" r="5.0"/><circle cx="1058.3" cy="386.0" r="5.0"/><circle cx="1030.5" cy="105.6" r="5.0"/><circle cx="1196.9" cy="134.6" r="5.0"/><circle cx="1074.7" cy="105.6" r="5.0"/><circle cx="1334.7" cy="127.7" r="5.0"/><circle cx="1074.7" cy="85.0" r="5.0"/><circle cx="1103.4" cy="85.0" r="5.0"/><circle cx="1135.4" cy="85.0" r="5.0"/><circle cx="1186.1" cy="85.0" r="5.0"/><circle cx="1307.0" cy="85.0" r="5.0"/><circle cx="1398.9" cy="85.5" r="5.0"/><circle cx="1334.3" cy="90.5" r="5.0"/><circle cx="1296.1" cy="135.9" r="5.0"/><circle cx="1226.0" cy="153.9" r="5.0"/><circle cx="1117.2" cy="86.3" r="5.0"/><circle cx="1366.0" cy="186.8" r="5.0"/><circle cx="1419.7" cy="186.8" r="5.0"/><circle cx="976.0" cy="103.0" r="5.0"/><circle cx="1121.6" cy="137.2" r="5.0"/><circle cx="1346.8" cy="57.6" r="5.0"/><circle cx="1191.7" cy="137.6" r="5.0"/><circle cx="1139.3" cy="237.6" r="5.0"/><circle cx="1176.5" cy="101.3" r="5.0"/><circle cx="1139.3" cy="251.3" r="5.0"/><circle cx="1301.3" cy="89.4" r="5.0"/><circle cx="1220.4" cy="79.8" r="5.0"/><circle cx="981.6" cy="100.4" r="5.0"/><circle cx="1039.2" cy="100.0" r="5.0"/><circle cx="1220.4" cy="100.0" r="5.0"/><circle cx="1348.1" cy="95.2" r="5.0"/><circle cx="1031.0" cy="90.6" r="5.0"/><circle cx="1176.5" cy="90.6" r="5.0"/><circle cx="1228.6" cy="90.6" r="5.0"/><circle cx="1488.2" cy="90.6" r="5.0"/><circle cx="1186.1" cy="91.1" r="5.0"/><circle cx="1395.0" cy="191.1" r="5.0"/><circle cx="1458.2" cy="191.1" r="5.0"/><circle cx="1478.7" cy="62.9" r="5.0"/><circle cx="1157.1" cy="141.5" r="5.0"/><circle cx="1348.2" cy="99.1" r="5.0"/><circle cx="1015.8" cy="91.9" r="5.0"/><circle cx="1212.0" cy="74.2" r="5.0"/><circle cx="1212.0" cy="111.2" r="5.0"/><circle cx="1212.0" cy="127.7" r="5.0"/><circle cx="1015.8" cy="97.8" r="5.0"/><circle cx="1226.0" cy="142.8" r="5.0"/><circle cx="1346.9" cy="137.2" r="5.0"/><circle cx="1296.1" cy="146.9" r="5.0"/><circle cx="1269.7" cy="94.5" r="5.0"/><circle cx="1478.7" cy="94.5" r="5.0"/><circle cx="1532.3" cy="94.5" r="5.0"/></g>
<text x="897.4" y="585.1" class="yl" text-anchor="end">0</text>
<text x="897.4" y="531.8" class="yl" text-anchor="end">10</text>
<text x="897.4" y="478.1" class="yl" text-anchor="end">20</text>
<text x="897.4" y="424.5" class="yl" text-anchor="end">30</text>
<text x="897.4" y="370.9" class="yl" text-anchor="end">40</text>
<text x="897.4" y="318.7" class="yl" text-anchor="end">50</text>
<text x="897.4" y="265.1" class="yl" text-anchor="end">60</text>
<text x="897.4" y="211.5" class="yl" text-anchor="end">70</text>
<text x="897.4" y="157.9" class="yl" text-anchor="end">80</text>
<text x="897.4" y="104.2" class="yl" text-anchor="end">90</text>
<text x="897.4" y="50.8" class="yl" text-anchor="end">100</text>
<text x="912.7" y="606.8" class="xl" text-anchor="middle">10</text>
<text x="1003.2" y="606.8" class="xl" text-anchor="middle">20</text>
<text x="1094.0" y="606.8" class="xl" text-anchor="middle">30</text>
<text x="1184.7" y="606.8" class="xl" text-anchor="middle">40</text>
<text x="1274.0" y="606.8" class="xl" text-anchor="middle">50</text>
<text x="1364.9" y="606.8" class="xl" text-anchor="middle">60</text>
<text x="1455.3" y="606.8" class="xl" text-anchor="middle">70</text>
<text x="1546.0" y="606.8" class="xl" text-anchor="middle">80</text>
<text x="1636.8" y="606.8" class="xl" text-anchor="middle">90</text>
<text x="1226.3" y="635.5" class="at" textLength="94.5" lengthAdjust="spacingAndGlyphs">Age (years)</text>
<text transform="translate(861.5,351.4) rotate(-90)" class="at" textLength="73.5" lengthAdjust="spacingAndGlyphs">PDFF (%)</text>
<text x="1057.8" y="18" class="tt" textLength="365.8" lengthAdjust="spacingAndGlyphs">PDFF value distribution in females</text>
<circle cx="1053.5" cy="682.5" r="5" fill="#4f81bd"/>
<text x="1063.0" y="687.6" class="lg" textLength="76.4" lengthAdjust="spacingAndGlyphs">Epiphysis</text>
<circle cx="1169.2" cy="682.5" r="5" fill="#c0504d"/>
<text x="1178.6" y="687.6" class="lg" textLength="115.7" lengthAdjust="spacingAndGlyphs">Intretroch reg</text>
<circle cx="1324.1" cy="682.5" r="5" fill="#9bbb59"/>
<text x="1333.3" y="687.6" class="lg" textLength="111.4" lengthAdjust="spacingAndGlyphs">Greater troch</text>
<text x="1619.6" y="676.5" class="lt">B</text>
</svg>
</body></html>
